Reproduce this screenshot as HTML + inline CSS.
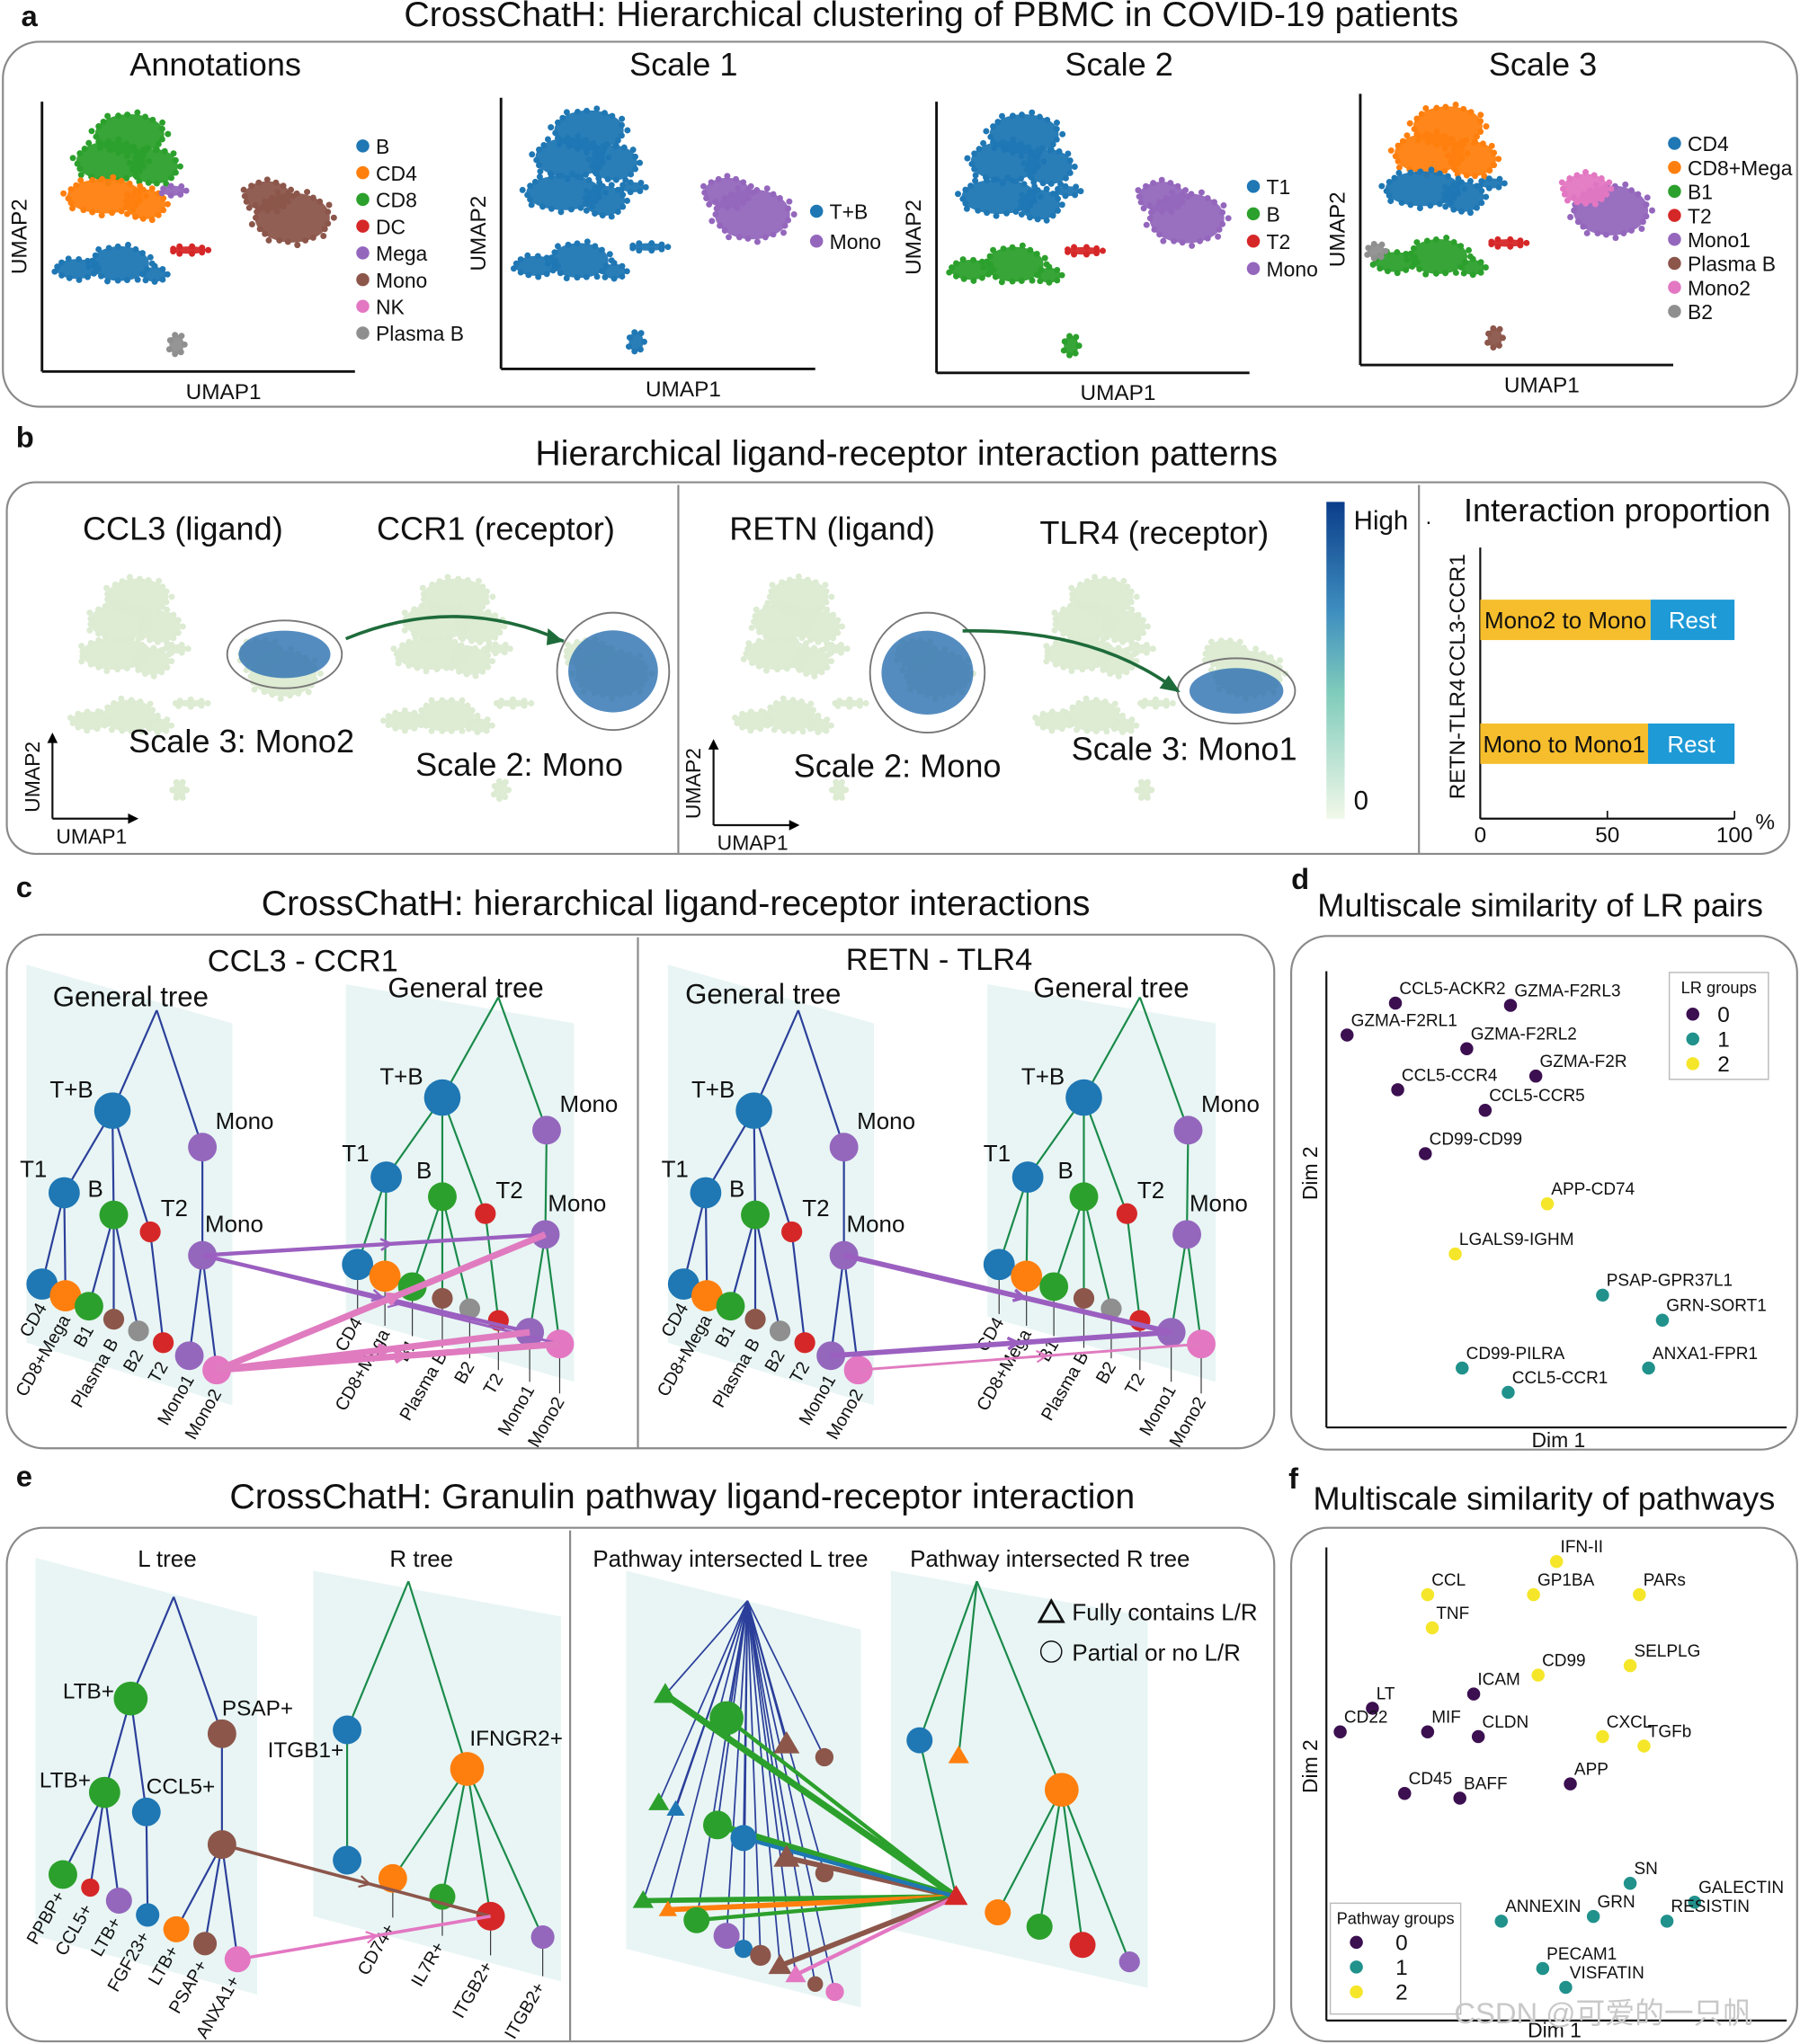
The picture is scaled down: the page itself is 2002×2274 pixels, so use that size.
<!DOCTYPE html>
<html><head><meta charset="utf-8">
<style>
html,body{margin:0;padding:0;background:#fff;}
svg{display:block;font-family:"Liberation Sans",Arial,sans-serif;}
</style></head>
<body>
<svg id="fig" width="2002" height="2274" viewBox="0 0 1380 1568" xmlns="http://www.w3.org/2000/svg">
<rect width="1380" height="1568" fill="#fff"/>
</svg>
<script>
// ---------- data ----------
const umapShape = [
  [0.28,0.12,0.12,0.08,'top'],[0.22,0.22,0.12,0.08,'top'],[0.36,0.24,0.08,0.07,'top'],
  [0.20,0.35,0.13,0.07,'mid'],[0.33,0.38,0.07,0.06,'mid'],
  [0.25,0.60,0.10,0.07,'bot'],[0.11,0.62,0.07,0.04,'bot'],[0.36,0.64,0.04,0.03,'bot'],
  [0.47,0.55,0.06,0.015,'bridge'],
  [0.80,0.43,0.13,0.10,'right'],[0.72,0.35,0.08,0.06,'rightTop'],
  [0.42,0.33,0.04,0.02,'side'],
  [0.43,0.90,0.025,0.04,'island'],[0.05,0.58,0.03,0.03,'far']
];
const lrNames = ['CCL5-ACKR2','GZMA-F2RL3','GZMA-F2RL1','GZMA-F2RL2','GZMA-F2R','CCL5-CCR4','CCL5-CCR5','CD99-CD99','APP-CD74','LGALS9-IGHM','PSAP-GPR37L1','GRN-SORT1','CD99-PILRA','ANXA1-FPR1','CCL5-CCR1'];
const lrX = [1.5,4.0,0.45,3.05,4.55,1.55,3.45,2.15,4.8,2.8,6.0,7.3,2.95,7.0,3.95];
const lrY = [9.3,9.25,8.6,8.3,7.7,7.4,6.95,6.0,4.9,3.8,2.9,2.35,1.3,1.3,0.77];
const lrGroup = [0,0,0,0,0,0,0,0,2,2,1,1,1,1,1];
const pwNames = ['IFN-II','CCL','GP1BA','PARs','TNF','CD99','SELPLG','ICAM','LT','CD22','MIF','CLDN','CXCL','TGFb','CD45','BAFF','APP','SN','GALECTIN','ANNEXIN','GRN','RESISTIN','PECAM1','VISFATIN'];
const pwX = [5.0,2.2,4.5,6.8,2.3,4.6,6.6,3.2,1.0,0.3,2.2,3.3,6.0,6.9,1.7,2.9,5.3,6.6,8.0,3.8,5.8,7.4,4.7,5.2];
const pwY = [9.7,9.0,9.0,9.0,8.3,7.3,7.5,6.9,6.6,6.1,6.1,6.0,6.0,5.8,4.8,4.7,5.0,2.9,2.5,2.1,2.2,2.1,1.1,0.7];
const pwGroup = [2,2,2,2,2,2,2,0,0,0,0,0,2,2,0,0,0,1,1,1,1,1,1,1];
const barCats = ['CCL3-CCR1','RETN-TLR4'];
const barMain = [67,66];
const barMainLbl = ['Mono2 to Mono','Mono to Mono1'];
const barTicks = [0,50,100];
const groupColors = ['#3b0f50','#21918c','#f5e62a'];

// ---------- helpers ----------
const svg = document.getElementById('fig');
const NS = 'http://www.w3.org/2000/svg';
function mk(tag, attrs, name, parent){
  const el = document.createElementNS(NS, tag);
  for (const k in attrs) el.setAttribute(k, attrs[k]);
  
  
  (parent||svg).appendChild(el);
  return el;
}
function T(x,y,s,size,name,opt){
  opt = opt||{};
  const fs = size>=18 ? size*1.13 : size*1.05;
  const a = {x:x,y:y,'font-size':fs.toFixed(1),fill:opt.fill||'#111','text-anchor':opt.anchor||'start'};
  if (opt.rot!==undefined) a.transform = 'rotate('+opt.rot+' '+x+' '+y+')';
  if (opt.weight) a['font-weight'] = opt.weight;
  const t = mk('text', a, name);
  t.textContent = s;
  return t;
}
function L(x1,y1,x2,y2,c,w,name){return mk('line',{x1:x1,y1:y1,x2:x2,y2:y2,stroke:c,'stroke-width':w},name);}
function C(x,y,r,f,name){return mk('circle',{cx:x,cy:y,r:r,fill:f},name);}
function box(x,y,w,h,name){return mk('rect',{x:x,y:y,width:w,height:h,rx:28,fill:'none',stroke:'#8a8a8a','stroke-width':1.5},name);}
function arrow(x1,y1,x2,y2,c,w,name){
  L(x1,y1,x2,y2,c,w,name);
  const mx=x1+(x2-x1)*0.55, my=y1+(y2-y1)*0.55;
  const ang=Math.atan2(y2-y1,x2-x1);
  const s=9;
  const p=[[mx-s*Math.cos(ang-0.5),my-s*Math.sin(ang-0.5)],[mx,my],[mx-s*Math.cos(ang+0.5),my-s*Math.sin(ang+0.5)]];
  mk('polyline',{points:p.map(q=>q.join(',')).join(' '),fill:'none',stroke:c,'stroke-width':Math.max(1.5,w*0.6)},name+'-head');
}
const COL={blue:'#1f77b4',orange:'#ff7f0e',green:'#2ca02c',red:'#d62728',purple:'#9467bd',brown:'#8c564b',pink:'#e377c2',gray:'#8f8f8f'};

// ---------- panel a ----------
T(16,20,'a',20,'panel-a-letter',{weight:'bold'});
T(714,20,'CrossChatH: Hierarchical clustering of PBMC in COVID-19 patients',24,'panel-a-title',{anchor:'middle'});
box(2,32,1376,280,'panel-a-box');
function umap(bx,by,w,h,colmap,name){
  umapShape.forEach((e,i)=>{
    const c = colmap[e[4]];
    if(!c) return;
    const cx=bx+e[0]*w, cy=by+e[1]*h, rx=e[2]*w, ry=e[3]*h;
    mk('ellipse',{cx:cx,cy:cy,rx:rx*0.92,ry:ry*0.92,fill:c,opacity:0.95},name+'-cluster-'+e[4]);
    const n=Math.max(6,Math.round((rx+ry)*0.5));
    for(let k=0;k<n;k++){
      const a=k/n*Math.PI*2, f=(k%3===0)?1.02:0.9;
      const dot=mk('circle',{cx:cx+Math.cos(a)*rx*f,cy:cy+Math.sin(a)*ry*f,r:2.4,fill:c},name+'-edge-dot');
    }
  });
}
const aPlots = [
  {x:32,y:78,w:240,h:207,title:'Annotations',map:{top:COL.green,mid:COL.orange,bot:COL.blue,bridge:COL.red,right:COL.brown,rightTop:COL.brown,side:COL.purple,island:COL.gray},
   leg:[['B',COL.blue],['CD4',COL.orange],['CD8',COL.green],['DC',COL.red],['Mega',COL.purple],['Mono',COL.brown],['NK',COL.pink],['Plasma B',COL.gray]],lx:278,ly:112,ld:20.5},
  {x:384,y:75,w:241,h:208,title:'Scale 1',map:{top:COL.blue,mid:COL.blue,bot:COL.blue,bridge:COL.blue,right:COL.purple,rightTop:COL.purple,side:COL.blue,island:COL.blue},
   leg:[['T+B',COL.blue],['Mono',COL.purple]],lx:626,ly:162,ld:23},
  {x:718,y:78,w:240,h:208,title:'Scale 2',map:{top:COL.blue,mid:COL.blue,bot:COL.green,bridge:COL.red,right:COL.purple,rightTop:COL.purple,side:COL.blue,island:COL.green},
   leg:[['T1',COL.blue],['B',COL.green],['T2',COL.red],['Mono',COL.purple]],lx:961,ly:143,ld:21},
  {x:1043,y:72,w:240,h:208,title:'Scale 3',map:{top:COL.orange,mid:COL.blue,bot:COL.green,bridge:COL.red,right:COL.purple,rightTop:COL.pink,side:COL.blue,island:COL.brown,far:COL.gray},
   leg:[['CD4',COL.blue],['CD8+Mega',COL.orange],['B1',COL.green],['T2',COL.red],['Mono1',COL.purple],['Plasma B',COL.brown],['Mono2',COL.pink],['B2',COL.gray]],lx:1284,ly:110,ld:18.4}
];
aPlots.forEach((p,i)=>{
  T(p.x+(i==0?133:140),58,p.title,22,'umap-title-'+i,{anchor:'middle'});
  umap(p.x,p.y,p.w,p.h,p.map,'umap-'+i);
  L(p.x,p.y,p.x,p.y+p.h,'#111',2,'umap-y-axis-'+i);
  L(p.x,p.y+p.h,p.x+p.w,p.y+p.h,'#111',2,'umap-x-axis-'+i);
  T(p.x+p.w*0.58,p.y+p.h+21,'UMAP1',16,'umap-x-title-'+i,{anchor:'middle'});
  T(p.x-12,p.y+p.h*0.5,'UMAP2',16,'umap-y-title-'+i,{anchor:'middle',rot:-90});
  p.leg.forEach((l,j)=>{
    C(p.lx,p.ly+j*p.ld,5,l[1],'legend-dot-'+i+'-'+j);
    T(p.lx+10,p.ly+j*p.ld+6,l[0],15,'legend-label-'+i+'-'+j);
  });
});

// ---------- panel b ----------
T(12,343,'b',20,'panel-b-letter',{weight:'bold'});
T(695,357,'Hierarchical ligand-receptor interaction patterns',24,'panel-b-title',{anchor:'middle'});
mk('rect',{x:5,y:370,width:1367,height:285,rx:22,fill:'none',stroke:'#8a8a8a','stroke-width':1.5},'panel-b-box');
L(520,372,520,655,'#8a8a8a',1.5,'panel-b-divider-1');
L(1088,372,1088,655,'#8a8a8a',1.5,'panel-b-divider-2');
const pale={top:'#dcebd2',mid:'#dcebd2',bot:'#dcebd2',bridge:'#dcebd2',right:'#dcebd2',rightTop:'#dcebd2',side:'#dcebd2',island:'#dcebd2'};
const bUmaps=[[45,435,215,190],[285,435,230,190],[555,435,205,190],[785,435,215,190]];
bUmaps.forEach((u,i)=>umap(u[0],u[1],u[2],u[3],pale,'expr-umap-'+i));
[[218,502,44,26],[470,515,43,45],[711,516,44,46],[948,530,45,25]].forEach((h,i)=>{
  mk('ellipse',{cx:h[0],cy:h[1],rx:h[2]*0.8,ry:h[3]*0.7,fill:'#2a6fb0',opacity:0.8},'expr-highlight-fill-'+i);
  mk('ellipse',{cx:h[0],cy:h[1],rx:h[2],ry:h[3],fill:'none',stroke:'#777','stroke-width':1.3},'expr-highlight-ring-'+i);
});
mk('path',{d:'M265,490 Q350,455 432,492',fill:'none',stroke:'#1e6b3a','stroke-width':2.5},'interaction-arrow-1');
mk('path',{d:'M738,484 Q840,482 903,530',fill:'none',stroke:'#1e6b3a','stroke-width':2.5},'interaction-arrow-2');
mk('polygon',{points:'432,492 420,482 419,495',fill:'#1e6b3a'},'interaction-arrowhead-1');
mk('polygon',{points:'905,531 896,518 889,528',fill:'#1e6b3a'},'interaction-arrowhead-2');
T(140,414,'CCL3 (ligand)',22,'ccl3-label',{anchor:'middle'});
T(380,414,'CCR1 (receptor)',22,'ccr1-label',{anchor:'middle'});
T(638,414,'RETN (ligand)',22,'retn-label',{anchor:'middle'});
T(885,417,'TLR4 (receptor)',22,'tlr4-label',{anchor:'middle'});
T(185,577,'Scale 3: Mono2',22,'scale3-mono2-label',{anchor:'middle'});
T(398,595,'Scale 2: Mono',22,'scale2-mono-label-1',{anchor:'middle'});
T(688,596,'Scale 2: Mono',22,'scale2-mono-label-2',{anchor:'middle'});
T(908,583,'Scale 3: Mono1',22,'scale3-mono1-label',{anchor:'middle'});
[[40,628],[547,633]].forEach((a,i)=>{
  L(a[0],a[1],a[0],a[1]-62,'#111',1.5,'umap-arrow-y-'+i);
  L(a[0],a[1],a[0]+62,a[1],'#111',1.5,'umap-arrow-x-'+i);
  mk('polygon',{points:(a[0]-4)+','+(a[1]-58)+' '+a[0]+','+(a[1]-66)+' '+(a[0]+4)+','+(a[1]-58)},'umap-arrowhead-y-'+i);
  mk('polygon',{points:(a[0]+58)+','+(a[1]-4)+' '+(a[0]+66)+','+a[1]+' '+(a[0]+58)+','+(a[1]+4)},'umap-arrowhead-x-'+i);
  T(a[0]-10,a[1]-32,'UMAP2',15,'umap-arrow-y-label-'+i,{anchor:'middle',rot:-90});
  T(a[0]+30,a[1]+19,'UMAP1',15,'umap-arrow-x-label-'+i,{anchor:'middle'});
});
const defs=mk('defs',{},'defs');
const lg=mk('linearGradient',{id:'cbar',x1:0,y1:0,x2:0,y2:1},'colorbar-gradient',defs);
[['0','#0b3d8a'],['0.35','#3f8fc0'],['0.6','#7fcbbb'],['1','#f1f8e9']].forEach((s,i)=>mk('stop',{offset:s[0],'stop-color':s[1]},'grad-stop-'+i,lg));
mk('rect',{x:1017,y:385,width:14,height:243,fill:'url(#cbar)'},'colorbar');
T(1038,406,'High',18,'colorbar-high');
T(1038,621,'0',18,'colorbar-zero');
T(1240,400,'Interaction proportion',22,'bar-title',{anchor:'middle'});
const bx0=1135,bx1=1330;
const xs=v=>bx0+(bx1-bx0)*v/100;
L(bx0,420,bx0,628,'#111',1.5,'bar-y-axis');
L(bx0,628,bx1,628,'#111',1.5,'bar-x-axis');
barTicks.forEach((t,i)=>{L(xs(t),628,xs(t),622,'#111',1.2,'bar-tick-'+i);T(xs(t),646,String(t),16,'bar-tick-label-'+i,{anchor:'middle'});});
T(1346,636,'%',16,'bar-unit');
barCats.forEach((c,i)=>{
  const y=[460,555][i];
  mk('rect',{x:xs(0),y:y,width:xs(barMain[i])-xs(0),height:31,fill:'#f6be2c'},'bar-main-'+i);
  mk('rect',{x:xs(barMain[i]),y:y,width:xs(100)-xs(barMain[i]),height:31,fill:'#1e9ad6'},'bar-rest-'+i);
  T(xs(barMain[i])/2+xs(0)/2,y+22,barMainLbl[i],17,'bar-main-label-'+i,{anchor:'middle'});
  T((xs(barMain[i])+xs(100))/2,y+22,'Rest',17,'bar-rest-label-'+i,{anchor:'middle',fill:'#fff'});
  T(1123,y+12,c,16,'bar-category-'+i,{anchor:'middle',rot:-90});
});
T(1093,402,'.',16,'dot-mark');

// ---------- panel c ----------
T(12,688,'c',20,'panel-c-letter',{weight:'bold'});
T(518,702,'CrossChatH: hierarchical ligand-receptor interactions',24,'panel-c-title',{anchor:'middle'});
box(5,717,972,394,'panel-c-box');
L(489,719,489,1111,'#8a8a8a',1.5,'panel-c-divider');
const leafNames=['CD4','CD8+Mega','B1','Plasma B','B2','T2','Mono1','Mono2'];
const leafCols=[COL.blue,COL.orange,COL.green,COL.brown,COL.gray,COL.red,COL.purple,COL.pink];
function genTree(ox,oy,leftTree,lineCol,tag){
  const N = leftTree ? {
    root:[120,775],tb:[86,852],mono:[155,880],t1:[49,915],b:[87,932],t2:[115,945],mono2:[155,963],
    leaves:[[32,985],[50,994],[68,1002],[87,1012],[106,1021],[125,1030],[145,1040],[166,1051]]
  } : {
    root:[382,765],tb:[339,842],mono:[419,867],t1:[296,903],b:[339,918],t2:[372,931],mono2:[418,947],
    leaves:[[274,970],[295,979],[316,987],[339,996],[360,1004],[382,1013],[406,1022],[429,1031]]
  };
  const P=p=>[p[0]+ox,p[1]+oy];
  const bg = leftTree ? [[20,740],[178,785],[178,1078],[20,1030]] : [[265,755],[440,785],[440,1060],[265,1010]];
  mk('polygon',{points:bg.map(q=>(q[0]+ox)+','+(q[1]+oy)).join(' '),fill:'#e8f5f4'},tag+'-tree-bg');
  const E=[['root','tb'],['root','mono'],['tb','t1'],['tb','b'],['tb','t2'],['mono','mono2'],['t1',0],['t1',1],['b',2],['b',3],['b',4],['t2',5],['mono2',6],['mono2',7]];
  E.forEach((e,i)=>{const a=P(N[e[0]]);const b=typeof e[1]==='number'?P(N.leaves[e[1]]):P(N[e[1]]);L(a[0],a[1],b[0],b[1],lineCol,1.5,tag+'-edge-'+i);});
  const inner=[['tb',COL.blue,14,'T+B',-48,-10],['mono',COL.purple,11,'Mono',10,-14],['t1',COL.blue,12,'T1',-34,-12],['b',COL.green,11,'B',-20,-14],['t2',COL.red,8,'T2',8,-12],['mono2',COL.purple,11,'Mono',2,-18]];
  inner.forEach(n=>{const p=P(N[n[0]]);C(p[0],p[1],n[2],n[1],tag+'-node-'+n[0]);T(p[0]+n[4],p[1]+n[5],n[3],17,tag+'-node-label-'+n[0]);});
  N.leaves.forEach((l,i)=>{
    const p=P(l);
    const r=[12,12,11,8,8,8,11,11][i];
    if(!leftTree) L(p[0],p[1],p[0],p[1]+38,'#333',0.8,tag+'-leaf-drop-'+i);
    C(p[0],p[1],r,leafCols[i],tag+'-leaf-'+i);
    const ly = leftTree ? p[1]+18 : p[1]+44;
    T(p[0]+4,ly,leafNames[i],13,tag+'-leaf-label-'+i,{anchor:'end',rot:-60});
  });
  return {P:P,N:N};
}
const c1L=genTree(0,0,true,'#2b3f9a','ccl3-left');
const c1R=genTree(0,0,false,'#1a8a4a','ccl3-right');
const c2L=genTree(492,0,true,'#2b3f9a','retn-left');
const c2R=genTree(492,0,false,'#1a8a4a','retn-right');
function arr(a,b,c,w,n){arrow(a[0],a[1],b[0],b[1],c,w,n);}
arr(c1L.P(c1L.N.mono2),c1R.P(c1R.N.mono2),'#9b5fc0',3,'ccl3-arrow-mono-mono');
arr(c1L.P(c1L.N.mono2),c1R.P(c1R.N.leaves[6]),'#9b5fc0',3,'ccl3-arrow-mono-mono1');
arr(c1L.P(c1L.N.mono2),c1R.P(c1R.N.leaves[7]),'#9b5fc0',2,'ccl3-arrow-mono-mono2');
arr(c1L.P(c1L.N.leaves[7]),c1R.P(c1R.N.mono2),'#e07bc0',5,'ccl3-arrow-mono2-mono');
arr(c1L.P(c1L.N.leaves[7]),c1R.P(c1R.N.leaves[6]),'#e07bc0',5,'ccl3-arrow-mono2-mono1');
arr(c1L.P(c1L.N.leaves[7]),c1R.P(c1R.N.leaves[7]),'#e07bc0',5,'ccl3-arrow-mono2-mono2');
arr(c2L.P(c2L.N.mono2),c2R.P(c2R.N.leaves[6]),'#9b5fc0',4,'retn-arrow-mono-mono1');
arr(c2L.P(c2L.N.leaves[6]),c2R.P(c2R.N.leaves[6]),'#9b5fc0',4,'retn-arrow-mono1-mono1');
arr(c2L.P(c2L.N.leaves[7]),c2R.P(c2R.N.leaves[7]),'#e07bc0',2,'retn-arrow-mono2-mono2');
T(232,745,'CCL3 - CCR1',21,'ccl3-ccr1-title',{anchor:'middle'});
T(720,744,'RETN - TLR4',21,'retn-tlr4-title',{anchor:'middle'});
[[100,772],[357,765],[585,770],[852,765]].forEach((g,i)=>T(g[0],g[1],'General tree',19,'general-tree-label-'+i,{anchor:'middle'}));

// ---------- scatter panels ----------
function scatter(cfg){
  const sx=v=>cfg.x0+(cfg.x1-cfg.x0)*v/10, sy=v=>cfg.y0-(cfg.y0-cfg.y1)*v/10;
  L(cfg.x0,cfg.y1,cfg.x0,cfg.y0,'#111',1.5,cfg.tag+'-y-axis');
  L(cfg.x0,cfg.y0,cfg.x1,cfg.y0,'#111',1.5,cfg.tag+'-x-axis');
  cfg.names.forEach((n,i)=>{
    const x=sx(cfg.xs[i]),y=sy(cfg.ys[i]);
    C(x,y,5,groupColors[cfg.g[i]],cfg.tag+'-point-'+i);
    T(x+3,y-7,n,12.5,cfg.tag+'-point-label-'+i);
  });
}
T(990,682,'d',20,'panel-d-letter',{weight:'bold'});
T(1181,703,'Multiscale similarity of LR pairs',22,'panel-d-title',{anchor:'middle'});
box(990,718,388,394,'panel-d-box');
scatter({x0:1017,x1:1370,y0:1095,y1:745,names:lrNames,xs:lrX,ys:lrY,g:lrGroup,tag:'lr'});
T(1010,900,'Dim 2',15,'lr-y-title',{anchor:'middle',rot:-90});
T(1195,1110,'Dim 1',15,'lr-x-title',{anchor:'middle'});
mk('rect',{x:1280,y:746,width:76,height:82,fill:'#fff',stroke:'#bbb'},'lr-legend-box');
T(1318,762,'LR groups',12,'lr-legend-title',{anchor:'middle'});
[0,1,2].forEach(g=>{C(1298,778+g*19,5,groupColors[g],'lr-legend-dot-'+g);T(1317,784+g*19,String(g),16,'lr-legend-label-'+g);});

T(988,1142,'f',20,'panel-f-letter',{weight:'bold'});
T(1184,1158,'Multiscale similarity of pathways',22,'panel-f-title',{anchor:'middle'});
box(990,1172,388,394,'panel-f-box');
scatter({x0:1017,x1:1370,y0:1550,y1:1187,names:pwNames,xs:pwX,ys:pwY,g:pwGroup,tag:'pw'});
T(1010,1355,'Dim 2',15,'pw-y-title',{anchor:'middle',rot:-90});
T(1192,1563,'Dim 1',15,'pw-x-title',{anchor:'middle'});
mk('rect',{x:1020,y:1460,width:100,height:85,fill:'#fff',stroke:'#bbb'},'pw-legend-box');
T(1070,1476,'Pathway groups',12,'pw-legend-title',{anchor:'middle'});
[0,1,2].forEach(g=>{C(1040,1490+g*19,5,groupColors[g],'pw-legend-dot-'+g);T(1070,1496+g*19,String(g),16,'pw-legend-label-'+g);});

// ---------- panel e ----------
T(12,1140,'e',20,'panel-e-letter',{weight:'bold'});
T(523,1157,'CrossChatH: Granulin pathway ligand-receptor interaction',24,'panel-e-title',{anchor:'middle'});
box(5,1172,972,394,'panel-e-box');
L(437,1174,437,1566,'#8a8a8a',1.5,'panel-e-divider');
mk('polygon',{points:'27,1195 197,1240 197,1530 27,1485',fill:'#e8f5f4'},'l-tree-bg');
mk('polygon',{points:'240,1205 430,1240 430,1520 240,1470',fill:'#e8f5f4'},'r-tree-bg');
mk('polygon',{points:'480,1205 660,1250 660,1540 480,1495',fill:'#e8f5f4'},'pl-tree-bg');
mk('polygon',{points:'683,1205 880,1240 880,1525 683,1480',fill:'#e8f5f4'},'pr-tree-bg');
T(128,1202,'L tree',17,'l-tree-title',{anchor:'middle'});
T(323,1202,'R tree',17,'r-tree-title',{anchor:'middle'});
T(560,1202,'Pathway intersected L tree',17,'pl-tree-title',{anchor:'middle'});
T(805,1202,'Pathway intersected R tree',17,'pr-tree-title',{anchor:'middle'});
const LT={root:[133,1225],ltb:[100,1303],psap:[170,1330],ltb2:[80,1375],ccl5:[112,1390],psap2:[170,1415]};
const LTleaves=[[48,1438,COL.green,'PPBP+',11],[69,1448,COL.red,'CCL5+',7],[91,1458,COL.purple,'LTB+',10],[113,1469,COL.blue,'FGF23+',9],[135,1480,COL.orange,'LTB+',10],[157,1491,COL.brown,'PSAP+',9],[182,1503,COL.pink,'ANXA1+',10]];
[['root','ltb'],['root','psap'],['ltb','ltb2'],['ltb','ccl5'],['psap','psap2']].forEach((e,i)=>L(LT[e[0]][0],LT[e[0]][1],LT[e[1]][0],LT[e[1]][1],'#2b3f9a',1.5,'l-tree-edge-'+i));
[['ltb2',0],['ltb2',1],['ltb2',2],['ccl5',3],['psap2',4],['psap2',5],['psap2',6]].forEach((e,i)=>L(LT[e[0]][0],LT[e[0]][1],LTleaves[e[1]][0],LTleaves[e[1]][1],'#2b3f9a',1.5,'l-tree-leaf-edge-'+i));
[['ltb',COL.green,13,'LTB+',-52,0],['psap',COL.brown,11,'PSAP+',0,-14],['ltb2',COL.green,12,'LTB+',-50,-4],['ccl5',COL.blue,11,'CCL5+',0,-14],['psap2',COL.brown,11,'',0,0]].forEach(n=>{const p=LT[n[0]];C(p[0],p[1],n[2],n[1],'l-tree-node-'+n[0]);if(n[3])T(p[0]+n[4],p[1]+n[5],n[3],16,'l-tree-node-label-'+n[0]);});
LTleaves.forEach((l,i)=>{C(l[0],l[1],l[4],l[2],'l-tree-leaf-'+i);T(l[0]+2,l[1]+16,l[3],13,'l-tree-leaf-label-'+i,{anchor:'end',rot:-60});});
const RTleaves=[[266,1427,COL.blue,'',11],[301,1441,COL.orange,'CD74+',11],[339,1455,COL.green,'IL7R+',10],[376,1470,COL.red,'ITGB2+',11],[416,1486,COL.purple,'ITGB2+',9]];
L(313,1213,266,1327,'#1a8a4a',1.5,'r-tree-edge-0');L(313,1213,358,1357,'#1a8a4a',1.5,'r-tree-edge-1');
L(266,1327,266,1427,'#1a8a4a',1.5,'r-tree-edge-2');
[1,2,3,4].forEach(i=>L(358,1357,RTleaves[i][0],RTleaves[i][1],'#1a8a4a',1.5,'r-tree-leaf-edge-'+i));
C(266,1327,11,COL.blue,'r-tree-node-itgb1');T(205,1348,'ITGB1+',16,'r-tree-node-label-itgb1');
C(358,1357,13,COL.orange,'r-tree-node-ifngr2');T(360,1339,'IFNGR2+',16,'r-tree-node-label-ifngr2');
RTleaves.forEach((l,i)=>{if(i>0)L(l[0],l[1],l[0],l[1]+30,'#333',0.8,'r-tree-drop-'+i);C(l[0],l[1],l[4],l[2],'r-tree-leaf-'+i);if(l[3])T(l[0]+2,l[1]+38,l[3],13,'r-tree-leaf-label-'+i,{anchor:'end',rot:-60});});
arrow(170,1415,376,1470,'#8c564b',2.5,'granulin-arrow-psap');
arrow(182,1503,376,1470,'#e377c2',2.5,'granulin-arrow-anxa1');
const plRoot=[573,1228];
const plNodes=[[510,1300,'tri',COL.green,9],[557,1318,'circ',COL.green,13],[603,1338,'tri',COL.brown,10],[632,1348,'circ',COL.brown,7],[505,1383,'tri',COL.green,8],[518,1388,'tri',COL.blue,7],[550,1400,'circ',COL.green,11],[570,1410,'circ',COL.blue,10],[603,1425,'tri',COL.brown,10],[632,1437,'circ',COL.brown,7],[493,1458,'tri',COL.green,8],[512,1465,'tri',COL.orange,7],[534,1473,'circ',COL.green,10],[557,1485,'circ',COL.purple,10],[570,1495,'circ',COL.blue,7],[583,1500,'circ',COL.brown,8],[598,1508,'tri',COL.brown,9],[610,1515,'tri',COL.pink,8],[625,1522,'circ',COL.brown,6],[640,1528,'circ',COL.pink,7]];
const target=[733,1455];
plNodes.forEach((n,i)=>L(plRoot[0],plRoot[1],n[0],n[1],'#2b3f9a',1.2,'pl-tree-edge-'+i));
[[0,COL.green,5],[6,COL.green,5],[1,COL.green,3],[8,COL.brown,4],[10,COL.green,4],[11,COL.orange,4],[12,COL.green,3],[16,COL.brown,4],[17,COL.pink,3],[7,COL.blue,3]].forEach((a,i)=>L(plNodes[a[0]][0],plNodes[a[0]][1],target[0],target[1],a[1],a[2],'pl-arrow-'+i));
plNodes.forEach((n,i)=>{
  if(n[2]==='tri') mk('polygon',{points:n[0]+','+(n[1]-n[4])+' '+(n[0]-n[4])+','+(n[1]+n[4]*0.7)+' '+(n[0]+n[4])+','+(n[1]+n[4]*0.7),fill:n[3]},'pl-node-'+i);
  else C(n[0],n[1],n[4],n[3],'pl-node-'+i);
});
const prRoot=[749,1213];
const prNodes=[[705,1335,'circ',COL.blue,10],[735,1347,'tri',COL.orange,8],[814,1373,'circ',COL.orange,13],[733,1455,'tri',COL.red,9],[765,1467,'circ',COL.orange,10],[797,1478,'circ',COL.green,10],[830,1492,'circ',COL.red,10],[866,1505,'circ',COL.purple,8]];
[[prRoot,prNodes[0]],[prRoot,prNodes[1]],[prRoot,prNodes[2]],[prNodes[0],prNodes[3]],[prNodes[2],prNodes[4]],[prNodes[2],prNodes[5]],[prNodes[2],prNodes[6]],[prNodes[2],prNodes[7]]].forEach((e,i)=>L(e[0][0],e[0][1],e[1][0],e[1][1],'#1a8a4a',1.5,'pr-tree-edge-'+i));
prNodes.forEach((n,i)=>{
  if(n[2]==='tri') mk('polygon',{points:n[0]+','+(n[1]-n[4])+' '+(n[0]-n[4])+','+(n[1]+n[4]*0.7)+' '+(n[0]+n[4])+','+(n[1]+n[4]*0.7),fill:n[3]},'pr-node-'+i);
  else C(n[0],n[1],n[4],n[3],'pr-node-'+i);
});
mk('polygon',{points:'806,1228 797,1244 815,1244',fill:'none',stroke:'#111','stroke-width':2},'legend-triangle');
T(822,1243,'Fully contains L/R',17,'legend-triangle-label');
C(806,1267,8,'none','legend-circle').setAttribute('stroke','#111');
T(822,1274,'Partial or no L/R',17,'legend-circle-label');
T(1115,1552,'CSDN @可爱的一只帆',20,'watermark',{fill:'#c8c8c8'});
</script>
</body></html>
